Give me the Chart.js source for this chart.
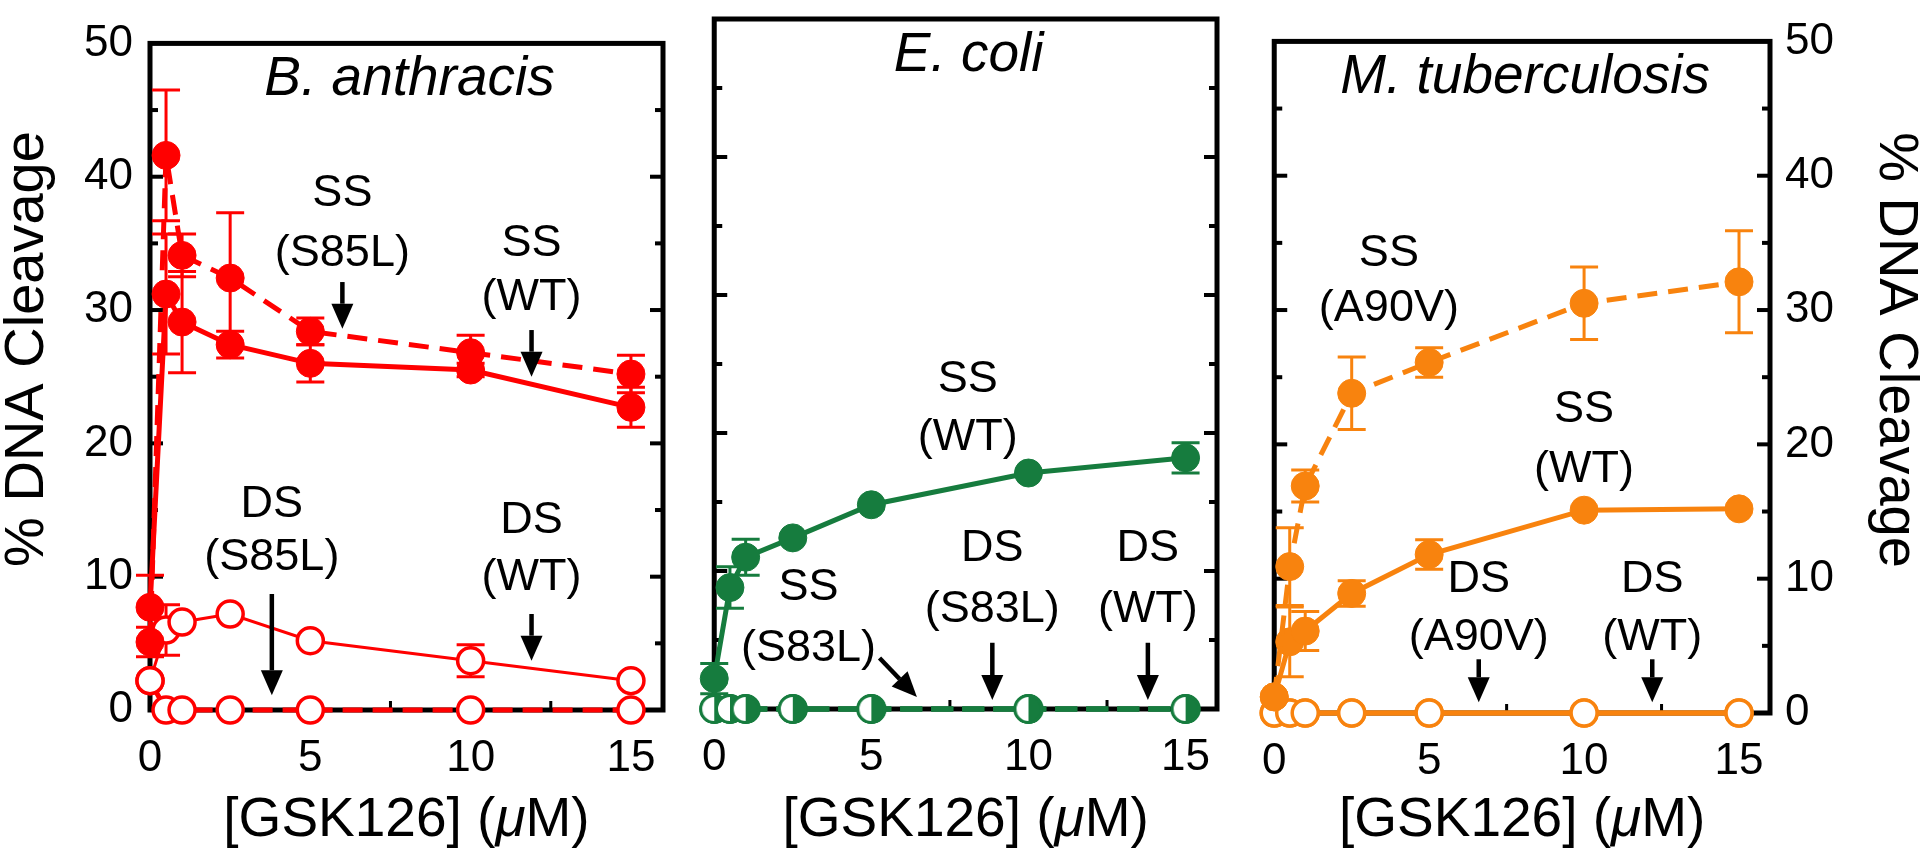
<!DOCTYPE html>
<html>
<head>
<meta charset="utf-8">
<script src="https://cdn.jsdelivr.net/npm/chart.js@4.4.1/dist/chart.umd.min.js"></script>
<style>
  body { margin: 0; background: #fff; width: 1920px; height: 852px; overflow: hidden; position: relative; }
  canvas { position: absolute; top: 0; }
</style>
</head>
<body>
<canvas id="ba" width="690" height="852" style="left:0px"></canvas>
<canvas id="ec" width="570" height="852" style="left:680px"></canvas>
<canvas id="mt" width="680" height="852" style="left:1240px"></canvas>
<script>
// concentrations of GSK126 (uM)
const conc = [0, 0.5, 1, 2.5, 5, 10, 15];
const xTickLabels = [0, 5, 10, 15];
const xTickMarks = [2.5, 5, 7.5, 10, 12.5, 15];
const yTickLabels = [0, 10, 20, 30, 40, 50];
const yTickMarks = [5, 10, 15, 20, 25, 30, 35, 40, 45];

// B. anthracis
const baSsMut = [5.1, 41.6, 34.1, 32.4, 28.4, 26.8, 25.2];
const baSsMutErr = [1.1, 4.9, 1.6, 4.9, 1.0, 1.3, 1.4];
const baSsWt = [7.7, 31.2, 29.1, 27.4, 26.0, 25.5, 22.7];
const baSsWtErr = [2.4, 4.5, 3.8, 1.0, 1.4, 0.5, 1.5];
const baDsWt = [2.2, 6.0, 6.6, 7.2, 5.2, 3.7, 2.2];
const baDsWtErr = [0, 1.9, 0, 0, 0, 1.2, 0];
const baDsMut = [2.2, 0, 0, 0, 0, 0, 0];

// E. coli
const ecSsWt = [2.2, 8.8, 11.0, 12.4, 14.8, 17.1, 18.2];
const ecSsWtErr = [1.1, 1.5, 1.3, 0, 0, 0, 1.1];
const ecSsMut = [0, 0, 0, 0, 0, 0, 0];
const ecDsMut = [0, 0, 0, 0, 0, 0, 0];
const ecDsWt = [0, 0, 0, 0, 0, 0, 0];

// M. tuberculosis
const mtSsMut = [1.2, 10.9, 16.9, 23.8, 26.1, 30.5, 32.1];
const mtSsMutErr = [0, 2.9, 1.2, 2.7, 1.1, 2.7, 3.8];
const mtSsWt = [1.2, 5.3, 6.1, 8.9, 11.8, 15.1, 15.2];
const mtSsWtErr = [0, 2.6, 1.45, 0.95, 1.1, 0, 0];
const mtDsMut = [0, 0, 0, 0, 0, 0, 0];
const mtDsWt = [0, 0, 0, 0, 0, 0, 0];

const FONT = '"Liberation Sans", Arial, Helvetica, sans-serif';
const RED = '#ff0000';
const GREEN = '#167c3e';
const ORANGE = '#f8830e';
const Y_TITLE = '% DNA Cleavage';

function pts(values) {
  return conc.map((x, i) => ({ x, y: values[i] }));
}

// circle, left half white, right half filled
function halfDot(color) {
  const c = document.createElement('canvas');
  c.width = 32; c.height = 32;
  const g = c.getContext('2d');
  g.fillStyle = '#fff';
  g.beginPath(); g.arc(16, 16, 13, 0, Math.PI * 2); g.fill();
  g.fillStyle = color;
  g.beginPath(); g.moveTo(16, 16); g.arc(16, 16, 13.5, -Math.PI / 2, Math.PI / 2); g.fill();
  g.strokeStyle = color; g.lineWidth = 3;
  g.beginPath(); g.arc(16, 16, 13.5, 0, Math.PI * 2); g.stroke();
  return c;
}

function serie(values, errs, color, marker, width, dash) {
  const d = {
    data: pts(values), errs: errs, showLine: true, clip: false,
    borderColor: color, borderWidth: width, borderDash: dash || [],
    pointRadius: 14, pointHoverRadius: 14, pointBorderColor: color
  };
  if (marker === 'filled') {
    d.pointStyle = 'circle'; d.pointBackgroundColor = color; d.pointBorderWidth = 1;
  } else if (marker === 'open') {
    d.pointStyle = 'circle'; d.pointRadius = 13; d.pointHoverRadius = 13;
    d.pointBackgroundColor = '#fff'; d.pointBorderWidth = 3.5;
  } else {
    d.pointStyle = halfDot(color);
  }
  return d;
}

// box + inward tick marks
const framePlugin = {
  id: 'frame',
  beforeDatasetsDraw(chart) {
    const { ctx, chartArea: a, scales: { x, y } } = chart;
    ctx.save();
    ctx.fillStyle = '#000';
    yTickMarks.forEach(v => {
      const py = y.getPixelForValue(v);
      const len = v % 10 === 0 ? 13 : 8;
      ctx.fillRect(a.left, py - 2, len, 4);
      ctx.fillRect(a.right - len, py - 2, len, 4);
    });
    xTickMarks.forEach(v => {
      const px = x.getPixelForValue(v);
      const len = v % 5 === 0 ? 12 : 9;
      ctx.fillRect(px - 1.5, a.bottom - len, 3, len);
    });
    ctx.strokeStyle = '#000';
    ctx.lineWidth = 5;
    ctx.strokeRect(a.left, a.top, a.right - a.left, a.bottom - a.top);
    ctx.restore();
  }
};

// error bars from each dataset's errs array
const errorPlugin = {
  id: 'errbars',
  beforeDatasetsDraw(chart) {
    const { ctx, scales: { x, y } } = chart;
    ctx.save();
    chart.data.datasets.forEach(d => {
      if (!d.errs) return;
      ctx.strokeStyle = d.borderColor;
      ctx.lineWidth = 3;
      d.data.forEach((p, i) => {
        const e = d.errs[i];
        if (!e) return;
        const px = x.getPixelForValue(p.x);
        const top = y.getPixelForValue(p.y + e);
        const bot = y.getPixelForValue(p.y - e);
        ctx.beginPath();
        ctx.moveTo(px, top); ctx.lineTo(px, bot);
        ctx.moveTo(px - 14, top); ctx.lineTo(px + 14, top);
        ctx.moveTo(px - 14, bot); ctx.lineTo(px + 14, bot);
        ctx.stroke();
      });
    });
    ctx.restore();
  }
};

function arrow(ctx, x1, y1, x2, y2) {
  const ang = Math.atan2(y2 - y1, x2 - x1);
  const hl = 25, hw = 11;
  const bx = x2 - hl * Math.cos(ang), by = y2 - hl * Math.sin(ang);
  ctx.lineWidth = 4.5;
  ctx.beginPath(); ctx.moveTo(x1, y1); ctx.lineTo(bx, by); ctx.stroke();
  ctx.beginPath();
  ctx.moveTo(x2, y2);
  ctx.lineTo(bx + hw * Math.sin(ang), by - hw * Math.cos(ang));
  ctx.lineTo(bx - hw * Math.sin(ang), by + hw * Math.cos(ang));
  ctx.closePath(); ctx.fill();
}

// panel name, axis titles and the SS / DS labels with arrows
function notesPlugin(p) {
  return {
    id: 'notes',
    afterDatasetsDraw(chart) {
      const { ctx, chartArea: a, scales: { x, y } } = chart;
      ctx.save();
      ctx.fillStyle = '#000';
      ctx.strokeStyle = '#000';
      ctx.textAlign = 'center';
      ctx.textBaseline = 'alphabetic';
      ctx.font = 'italic 55px ' + FONT;
      ctx.fillText(p.name, (a.left + a.right) / 2 + 3, a.top + 52);

      // [GSK126] (µM) with italic mu
      const cx = (a.left + a.right) / 2;
      const parts = [['[GSK126] (', ''], ['\u03bc', 'italic '], ['M)', '']];
      let w = 0;
      parts.forEach(t => { ctx.font = t[1] + '55px ' + FONT; w += ctx.measureText(t[0]).width; });
      let tx = cx - w / 2;
      ctx.textAlign = 'left';
      parts.forEach(t => {
        ctx.font = t[1] + '55px ' + FONT;
        ctx.fillText(t[0], tx, 836);
        tx += ctx.measureText(t[0]).width;
      });

      // y titles
      ctx.textAlign = 'center';
      ctx.textBaseline = 'middle';
      ctx.font = '56px ' + FONT;
      if (p.leftTitle) {
        ctx.save(); ctx.translate(p.leftTitle, 349); ctx.rotate(-Math.PI / 2);
        ctx.fillText(Y_TITLE, 0, 0); ctx.restore();
      }
      if (p.rightTitle) {
        ctx.save(); ctx.translate(p.rightTitle, 350); ctx.rotate(Math.PI / 2);
        ctx.fillText(Y_TITLE, 0, 0); ctx.restore();
      }

      ctx.font = '45px ' + FONT;
      p.notes.forEach(n => {
        n.lines.forEach((t, i) => ctx.fillText(t, x.getPixelForValue(n.x), y.getPixelForValue(n.y[i])));
        if (n.arrow) {
          const [ax1, ay1, ax2, ay2] = n.arrow;
          arrow(ctx, x.getPixelForValue(ax1), y.getPixelForValue(ay1), x.getPixelForValue(ax2), y.getPixelForValue(ay2));
        }
      });
      ctx.restore();
    }
  };
}

function panel(id, p) {
  const tickFont = { family: FONT, size: 44 };
  const yTicks = s => { s.ticks = yTickLabels.map(v => ({ value: v })); };
  return new Chart(document.getElementById(id), {
    type: 'scatter',
    data: { datasets: p.datasets },
    options: {
      responsive: false,
      animation: false,
      events: [],
      layout: { padding: { top: p.top, left: 0, right: 0, bottom: 0 } },
      plugins: { legend: { display: false }, tooltip: { enabled: false } },
      scales: {
        x: {
          type: 'linear', min: 0, max: 16,
          afterBuildTicks: s => { s.ticks = xTickLabels.map(v => ({ value: v })); },
          afterFit: s => { s.height = p.bottom; },
          grid: { display: false, drawTicks: false },
          border: { display: false },
          ticks: { color: '#000', font: tickFont, padding: 22, maxRotation: 0, autoSkip: false }
        },
        y: {
          type: 'linear', min: 0, max: 50, position: 'left',
          afterBuildTicks: yTicks,
          afterFit: s => { s.width = p.left; },
          grid: { display: false, drawTicks: false },
          border: { display: false },
          ticks: { display: !!p.leftTitle, color: '#000', font: tickFont, padding: 17 }
        },
        yR: {
          type: 'linear', axis: 'y', min: 0, max: 50, position: 'right',
          afterBuildTicks: yTicks,
          afterFit: s => { s.width = p.right; },
          grid: { display: false, drawTicks: false },
          border: { display: false },
          ticks: { display: !!p.rightTitle, color: '#000', font: tickFont, padding: 15 }
        }
      }
    },
    plugins: [framePlugin, errorPlugin, notesPlugin(p)]
  });
}

panel('ba', {
  name: 'B. anthracis', top: 17, bottom: 142, left: 150, right: 27, leftTitle: 28,
  datasets: [
    serie(baSsMut, baSsMutErr, RED, 'filled', 5, [20, 11]),
    serie(baSsWt, baSsWtErr, RED, 'filled', 5),
    serie(baDsWt, baDsWtErr, RED, 'open', 3),
    serie(baDsMut, null, RED, 'open', 5, [20, 10])
  ],
  notes: [
    { lines: ['SS', '(S85L)'], x: 6.0, y: [38.7, 34.2], arrow: [6.0, 32.1, 6.0, 28.6] },
    { lines: ['SS', '(WT)'], x: 11.9, y: [35.0, 30.9], arrow: [11.9, 28.5, 11.9, 25.0] },
    { lines: ['DS', '(S85L)'], x: 3.8, y: [15.4, 11.4], arrow: [3.8, 8.7, 3.8, 1.1] },
    { lines: ['DS', '(WT)'], x: 11.9, y: [14.2, 9.9], arrow: [11.9, 7.2, 11.9, 3.7] }
  ]
});

panel('ec', {
  name: 'E. coli', top: 14, bottom: 143, left: 21, right: 33,
  datasets: [
    serie(ecSsWt, ecSsWtErr, GREEN, 'filled', 5),
    serie(ecSsMut, null, GREEN, 'half', 5, [22, 9]),
    serie(ecDsMut, null, GREEN, 'open', 5, [22, 9]),
    serie(ecDsWt, null, GREEN, 'open', 5, [22, 9])
  ],
  notes: [
    { lines: ['SS', '(WT)'], x: 8.07, y: [23.9, 19.7] },
    { lines: ['SS', '(S83L)'], x: 3.0, y: [8.8, 4.4], arrow: [5.26, 3.7, 6.45, 0.87] },
    { lines: ['DS', '(S83L)'], x: 8.85, y: [11.6, 7.2], arrow: [8.85, 4.8, 8.85, 0.65] },
    { lines: ['DS', '(WT)'], x: 13.8, y: [11.6, 7.2], arrow: [13.8, 4.8, 13.8, 0.65] }
  ]
});

panel('mt', {
  name: 'M. tuberculosis', top: 17, bottom: 139, left: 13, right: 150, rightTitle: 655,
  datasets: [
    serie(mtSsMut, mtSsMutErr, ORANGE, 'filled', 5, [20, 11]),
    serie(mtSsWt, mtSsWtErr, ORANGE, 'filled', 5),
    serie(mtDsMut, null, ORANGE, 'open', 5),
    serie(mtDsWt, null, ORANGE, 'open', 5)
  ],
  notes: [
    { lines: ['SS', '(A90V)'], x: 3.7, y: [34.2, 30.1] },
    { lines: ['SS', '(WT)'], x: 10.0, y: [22.6, 18.1] },
    { lines: ['DS', '(A90V)'], x: 6.6, y: [9.9, 5.6], arrow: [6.6, 4.0, 6.6, 0.8] },
    { lines: ['DS', '(WT)'], x: 12.2, y: [9.9, 5.6], arrow: [12.2, 4.0, 12.2, 0.8] }
  ]
});
</script>
</body>
</html>
